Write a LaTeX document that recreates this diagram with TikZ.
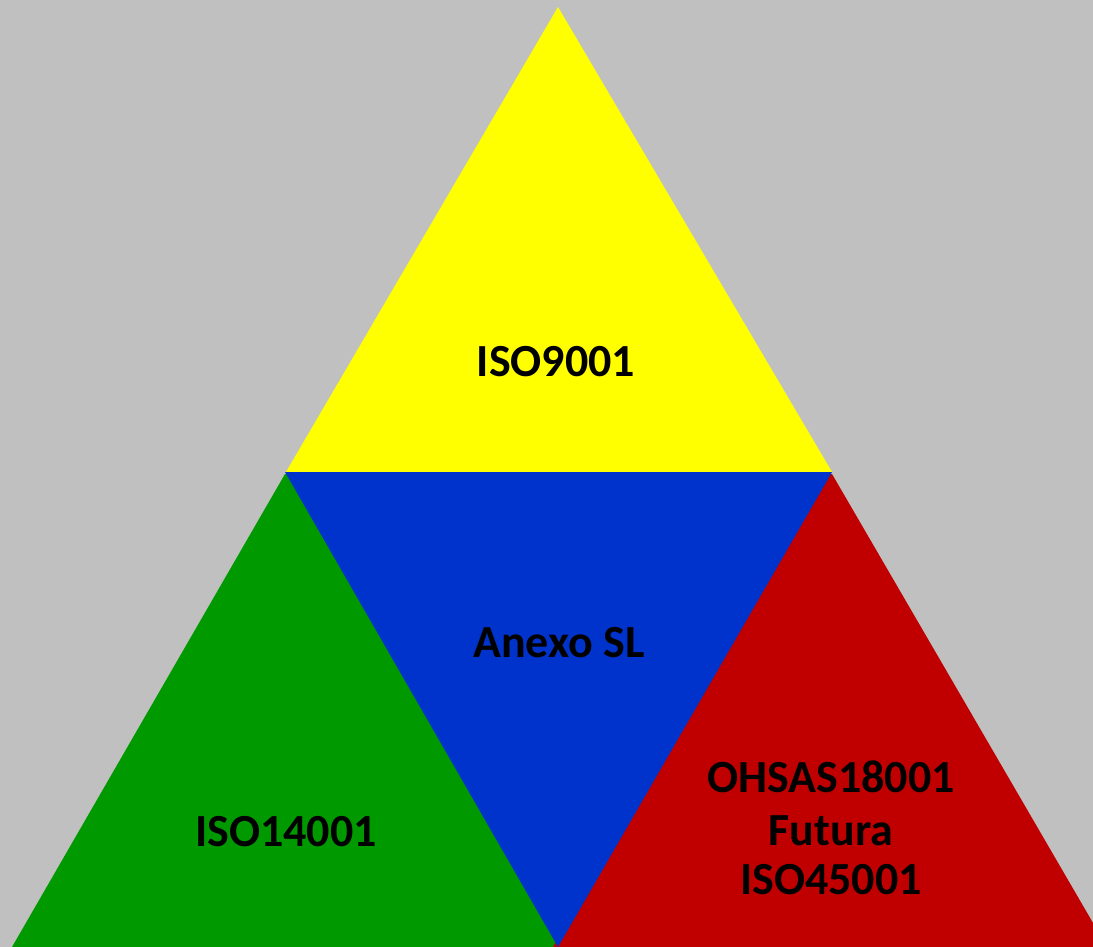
\documentclass[tikz,border=0pt]{standalone}
\usepackage{fontspec}
\setmainfont{Carlito}
\definecolor{bggray}{HTML}{C0C0C0}
\definecolor{triyellow}{HTML}{FFFF00}
\definecolor{triblue}{HTML}{0033CC}
\definecolor{trigreen}{HTML}{009900}
\definecolor{trired}{HTML}{C00000}
\tikzset{
  lbl/.style={anchor=base, inner sep=0pt, text=black, font=\fontsize{46}{51}\selectfont\bfseries},
  tri/.style={fill=#1},
}
\begin{document}
\begin{tikzpicture}[x=1pt,y=-1pt]
\useasboundingbox (0,0) rectangle (1093,947);
\clip (0,0) rectangle (1093,947);
\fill[bggray] (0,0) rectangle (1093,947);
% top yellow
\path[tri=triyellow] (558,7) -- (832,472) -- (286,472) -- cycle;
% green (right edge hidden under blue)
\path[tri=trigreen] (285,474) -- (288,474) -- (563,947) -- (12,947) -- cycle;
% red (left edge hidden under blue)
\path[tri=trired] (832,474) -- (1107,947) -- (553,947) -- (829,474) -- cycle;
% blue inverted, on top
\path[tri=triblue] (285,472) -- (832,472) -- (558,947) -- cycle;
% labels
\node[lbl] (iso9) at (556,376) {ISO9001};
\node[lbl] (anexo) at (559,657) {Anexo SL};
\node[lbl] (iso14) at (286,846) {ISO14001};
\node[lbl] (r1) at (831,792) {OHSAS18001};
\node[lbl] (r2) at (831,845) {Futura};
\node[lbl] (r3) at (831,894) {ISO45001};
\end{tikzpicture}
\end{document}
